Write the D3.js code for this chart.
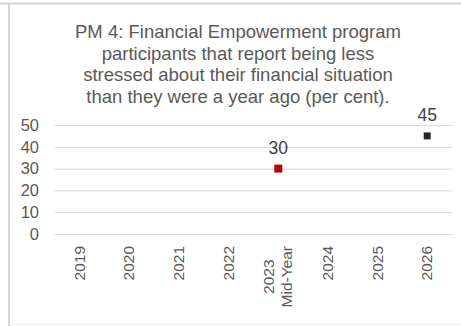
<!DOCTYPE html>
<html>
<head>
<meta charset="utf-8">
<script src="https://cdn.jsdelivr.net/npm/d3@7"></script>
<style>
  body { margin: 0; background: #fff; }
  svg { display: block; font-family: "Liberation Sans", Arial, sans-serif; }
</style>
</head>
<body>
<svg id="chart"></svg>
<script>
var categories = ["2019", "2020", "2021", "2022", "2023|Mid-Year", "2024", "2025", "2026"];
var actual = [null, null, null, null, 30, null, null, null];
var target = [null, null, null, null, null, null, null, 45];
var yTicks = [0, 10, 20, 30, 40, 50];
var titleLines = [
  "PM 4: Financial Empowerment program",
  "participants that report being less",
  "stressed about their financial situation",
  "than they were a year ago (per cent)."
];

var W = 461, H = 326;
var margin = {top: 125, right: 9, bottom: 92, left: 55};
var width = W - margin.left - margin.right;
var height = H - margin.top - margin.bottom;

var svg = d3.select("#chart").attr("width", W).attr("height", H);

// frame
svg.append("line").attr("x1", 0).attr("x2", W).attr("y1", 3.5).attr("y2", 3.5)
  .attr("stroke", "#d4d4d4").attr("stroke-width", 2);
svg.append("line").attr("x1", 9).attr("x2", 9).attr("y1", 3).attr("y2", H)
  .attr("stroke", "#d4d4d4").attr("stroke-width", 2);
svg.append("line").attr("x1", 9).attr("x2", W).attr("y1", H - 1.5).attr("y2", H - 1.5)
  .attr("stroke", "#ececec").attr("stroke-width", 1);

// title
svg.append("text")
  .attr("text-anchor", "middle")
  .attr("fill", "#595959")
  .style("font-size", "18.5px")
  .selectAll("tspan")
  .data(titleLines)
  .enter()
  .append("tspan")
  .attr("x", 238)
  .attr("y", (d, i) => 38 + i * 21.7)
  .text(d => d);

var g = svg.append("g").attr("transform", "translate(" + margin.left + "," + margin.top + ")");

var x = d3.scaleBand().domain(categories).range([0, width]);
var y = d3.scaleLinear().domain([0, 50]).range([height, 0]);

// gridlines
g.append("g")
  .call(d3.axisLeft(y).tickValues(yTicks).tickSize(-width).tickFormat(""))
  .call(a => a.select(".domain").remove())
  .selectAll("line").attr("stroke", "#d9d9d9").attr("stroke-width", 1);

// y labels
var yAxis = g.append("g")
  .call(d3.axisLeft(y).tickValues(yTicks).tickSize(0).tickPadding(16));
yAxis.select(".domain").remove();
yAxis.selectAll("text").attr("fill", "#595959").style("font-size", "16.5px")
  .style("font-family", "Liberation Sans, Arial, sans-serif");

// x labels, rotated
var xAxis = g.append("g").attr("transform", "translate(0," + height + ")")
  .call(d3.axisBottom(x).tickSize(0).tickFormat(""));
xAxis.select(".domain").remove();
xAxis.selectAll(".tick").each(function(d) {
  var parts = d.split("|");
  var t = d3.select(this).append("text")
    .attr("fill", "#595959")
    .style("font-size", "15.5px")
    .attr("transform", "rotate(-90)");
  var lineH = 18;
  parts.forEach(function(p, i) {
    t.append("tspan").attr("x", 0)
      .attr("y", (i - (parts.length - 1) / 2) * lineH + 5)
      .text(p);
  });
  if (parts.length === 1) {
    t.attr("text-anchor", "end").selectAll("tspan").attr("x", -12);
  } else {
    var maxLen = d3.max(t.selectAll("tspan").nodes(), n => n.getComputedTextLength());
    t.attr("text-anchor", "middle").selectAll("tspan").attr("x", -12 - maxLen / 2);
  }
});

function drawSeries(vals, color, size) {
  var pts = categories.map((c, i) => ({c: c, v: vals[i]})).filter(d => d.v != null);
  g.selectAll(null).data(pts).enter().append("rect")
    .attr("x", d => x(d.c) + x.bandwidth() / 2 - size / 2)
    .attr("y", d => y(d.v) - size / 2)
    .attr("width", size).attr("height", size)
    .attr("fill", color);
  g.selectAll(null).data(pts).enter().append("text")
    .attr("x", d => x(d.c) + x.bandwidth() / 2)
    .attr("y", d => y(d.v) - 15)
    .attr("text-anchor", "middle")
    .attr("fill", "#404040")
    .style("font-size", "17.5px")
    .text(d => d.v);
}
drawSeries(actual, "#c00000", 8);
drawSeries(target, "#262626", 7);
</script>
</body>
</html>
